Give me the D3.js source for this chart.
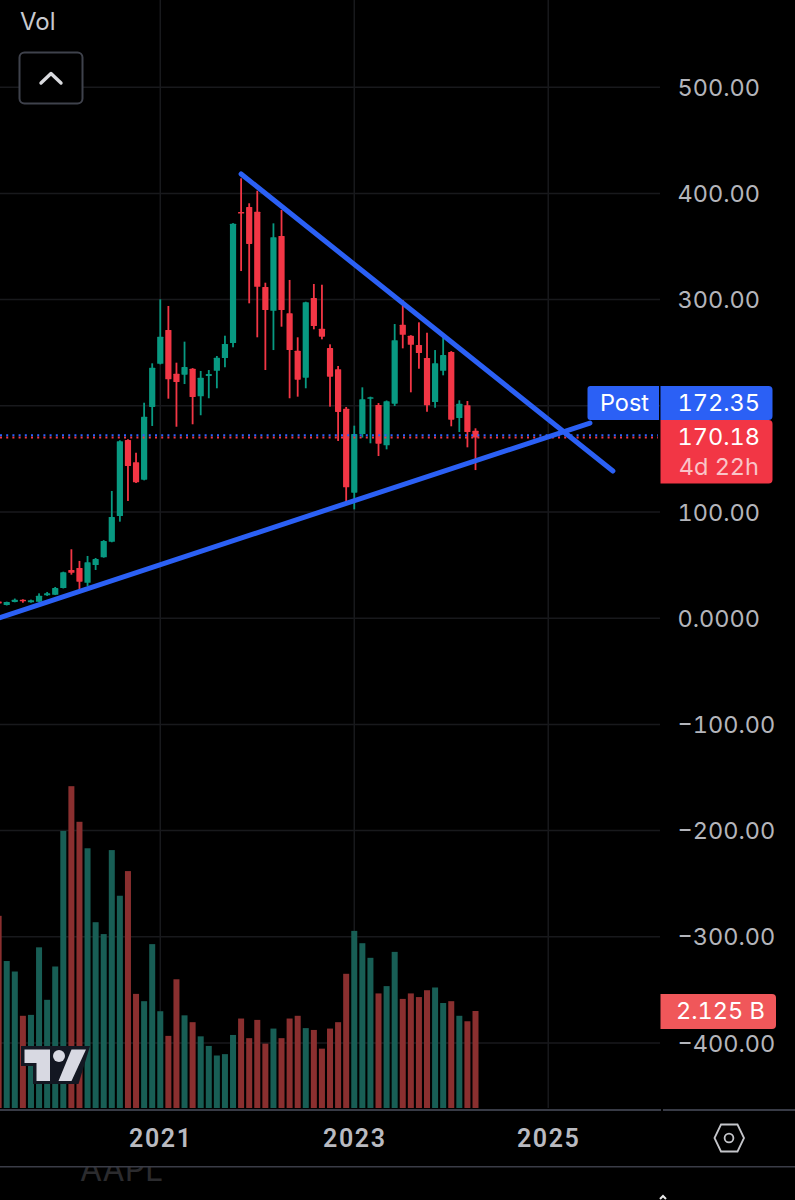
<!DOCTYPE html>
<html>
<head>
<meta charset="utf-8">
<script src="https://cdn.jsdelivr.net/npm/d3@7"></script>
<style>
  html, body { margin: 0; padding: 0; background: #000; }
  svg { display: block; }
  text { font-family: Inter, "Noto Sans", sans-serif; font-variant-numeric: tabular-nums; }
  .domain { display: none; }
</style>
</head>
<body>
<div id="chart"></div>
<script>
// monthly AAPL candles, May 2019 to Apr 2024
var opens = [15.7,12.4,15.3,17.4,15.0,15.5,21.6,22.1,28.4,45.4,47.3,33.4,50.1,57.3,72,96.2,167.8,146.8,130.4,198.9,
  239.6,271.4,230.2,229.3,234.9,208.9,228.1,233,245,259.1,382.5,387.2,382.8,311.9,289.5,359.9,287.1,251.9,226.5,301.5,
  272.6,254.4,234.4,197.3,118.2,173.4,206.7,200.8,162.8,202,276.4,266,257.3,245,203.6,233,250.7,188.5,200.5,176.6];
var highs = [16,15.6,18.5,17.8,17.5,23.4,24.7,29.4,43.8,64.9,53.9,58.6,56.7,73.5,119.8,167.5,168.5,155.8,202.9,240,
  300.3,294,240.6,260.4,235.5,232.8,233.7,246.9,266,372,414.2,390.7,402.5,315.9,371.8,384.4,318.5,264.5,298,314.7,
  314,257.9,237.5,198.9,181.3,217.4,208.6,202.6,205,277,299.6,266.5,278.6,268.8,252.5,265.1,251.5,205.2,204.5,178.8];
var lows = [13,12,15,14.6,14.6,15,21,21.8,28,41,25,30.3,45.4,57,71.5,90.9,110.4,127.3,129.8,181,
  239,206.7,180.3,220.5,182.6,191.1,207.1,216.5,236.3,255.1,326.9,296.5,264.5,233.7,252.5,274.5,207.1,208.6,216.5,272,
  262.6,199.2,166.9,108.8,102.5,170,164.7,152.7,159,199.8,254.1,212.7,234.9,194.4,198.2,228.7,180.7,175.3,160.9,139.5];
var closes = [13.9,15.3,17.4,15.9,16.9,21.2,23.4,28.4,43.2,42.8,34.4,52.6,55.7,72.7,95.3,166.6,143.3,128,189.7,235.9,
  265.1,225,222.4,236.5,208.3,226.5,229.9,245.3,258.2,371.5,381.3,352.4,312.1,290.2,358.7,290.2,252.5,224.6,297.5,275.1,
  265.1,227.4,194.2,123.3,173.4,206.1,208,164.3,204.2,261.7,266.9,257.5,249.7,200.5,240,247.8,186.9,202,175.3,170.18];
// volume in billions
var volumes = [4.21,3.22,2.99,2.02,2.04,3.52,2.37,3.10,6.07,7.05,6.27,5.69,4.07,3.81,5.65,4.65,5.19,2.50,2.34,3.59,
  2.12,1.58,2.82,2.03,1.88,1.57,1.36,1.15,1.18,1.60,1.96,1.53,1.93,1.41,1.74,1.53,1.96,2.02,1.75,1.71,
  1.30,1.74,1.88,2.94,3.88,3.61,3.29,2.51,2.67,3.42,2.39,2.51,2.43,2.58,2.64,2.30,2.34,2.02,1.90,2.125];

var priceTicks = [500, 400, 300, 200, 100, 0, -100, -200, -300, -400];
var priceLabels = ["500.00", "400.00", "300.00", "", "100.00", "0.0000", "\u2212100.00", "\u2212200.00", "\u2212300.00", "\u2212400.00"];
var yearTicks = [20, 44, 68];   // bar position of each January
var yearLabels = ["2021", "2023", "2025"];

// hand drawn lines: [bar position, price]
var lowerTrend = [[0, 0.2], [73.16, 183.8]];
var upperTrend = [[30, 418.3], [76, 138.6]];
var postPrice = 172.35;
var lastPrice = 170.18;

var width = 795, height = 1200;
var paneRight = 660, volBase = 1108;

var svg = d3.select("#chart").append("svg")
  .attr("width", width)
  .attr("height", height);

// Scales
var xScale = d3.scaleLinear().domain([0, 59]).range([-1.36, 475.5]);
var yScale = d3.scaleLinear().domain([0, 500]).range([618.2, 87.2]);
var volScale = d3.scaleLinear().domain([0, 2.125]).range([volBase, 1011]);

// Grid
svg.append("g").selectAll("line")
  .data(priceTicks)
  .enter().append("line")
    .attr("x1", 0).attr("x2", paneRight)
    .attr("y1", function(d) { return yScale(d); })
    .attr("y2", function(d) { return yScale(d); })
    .attr("stroke", "#18191c")
    .attr("stroke-width", 1.5);

svg.append("g").selectAll("line")
  .data(yearTicks)
  .enter().append("line")
    .attr("x1", function(d) { return xScale(d); })
    .attr("x2", function(d) { return xScale(d); })
    .attr("y1", 0).attr("y2", volBase)
    .attr("stroke", "#18191c")
    .attr("stroke-width", 1.5);

// Volume bars
svg.append("g").selectAll("rect")
  .data(volumes)
  .enter().append("rect")
    .attr("x", function(d, i) { return xScale(i) - 3; })
    .attr("y", function(d) { return volScale(d); })
    .attr("width", 6)
    .attr("height", function(d) { return volBase - volScale(d); })
    .attr("fill", function(d, i) { return closes[i] >= opens[i] ? "#185e55" : "#8a2f2f"; });

// Candles
var candles = svg.append("g").selectAll("g")
  .data(opens)
  .enter().append("g")
    .attr("fill", function(d, i) { return closes[i] >= opens[i] ? "#089981" : "#f23645"; });

candles.append("rect")
  .attr("x", function(d, i) { return xScale(i) - 0.9; })
  .attr("y", function(d, i) { return yScale(highs[i]); })
  .attr("width", 1.8)
  .attr("height", function(d, i) { return yScale(lows[i]) - yScale(highs[i]); });

candles.append("rect")
  .attr("x", function(d, i) { return xScale(i) - 3.1; })
  .attr("y", function(d, i) { return yScale(Math.max(opens[i], closes[i])); })
  .attr("width", 6.2)
  .attr("height", function(d, i) { return Math.max(1.5, Math.abs(yScale(opens[i]) - yScale(closes[i]))); })
  .attr("rx", 0.6);

// Price lines
var priceLines = [[lastPrice, "#f23645"], [postPrice, "#2962ff"]];
svg.append("g").selectAll("line")
  .data(priceLines)
  .enter().append("line")
    .attr("x1", 0).attr("x2", paneRight - 2)
    .attr("y1", function(d) { return yScale(d[0]); })
    .attr("y2", function(d) { return yScale(d[0]); })
    .attr("stroke", function(d) { return d[1]; })
    .attr("stroke-width", 2)
    .attr("stroke-dasharray", "2 4.2");

// Trend lines
var trend = d3.line()
  .x(function(d) { return xScale(d[0]); })
  .y(function(d) { return yScale(d[1]); });

svg.append("g").selectAll("path")
  .data([lowerTrend, upperTrend])
  .enter().append("path")
    .attr("d", trend)
    .attr("fill", "none")
    .attr("stroke", "#2b60f5")
    .attr("stroke-width", 5)
    .attr("stroke-linecap", "round");

// Price axis
var yAxis = d3.axisRight(yScale)
  .tickValues(priceTicks)
  .tickSize(0)
  .tickPadding(0)
  .tickFormat(function(d, i) { return priceLabels[i]; });

svg.append("g")
  .attr("transform", "translate(677.5,0.5)")
  .call(yAxis)
  .selectAll("text")
    .attr("fill", "#b4b5bb")
    .attr("font-size", "23.5px");

// Time axis
var xAxis = d3.axisBottom(xScale)
  .tickValues(yearTicks)
  .tickSize(0)
  .tickPadding(0)
  .tickFormat(function(d, i) { return yearLabels[i]; });

svg.append("g")
  .attr("transform", "translate(0,1129.5)")
  .call(xAxis)
  .selectAll("text")
    .attr("fill", "#b9bac0")
    .attr("font-size", "25px")
    .attr("font-weight", 600)
    .style("font-family", "Roboto")
    .style("letter-spacing", "1.6px");

// Axis rules
svg.append("rect").attr("x", 0).attr("y", 1109).attr("width", 661).attr("height", 2).attr("fill", "#383b46");
svg.append("rect").attr("x", 663).attr("y", 1109).attr("width", 132).attr("height", 2).attr("fill", "#383b46");

// Bottom strip
var strip = svg.append("g");
strip.append("clipPath").attr("id", "stripClip")
  .append("rect").attr("x", 0).attr("y", 1167).attr("width", 795).attr("height", 33);
strip.append("text")
  .text("AAPL")
  .attr("x", 80).attr("y", 1181)
  .attr("font-size", "32px")
  .attr("fill", "#2b2b2e")
  .attr("clip-path", "url(#stripClip)");
strip.append("rect").attr("x", 0).attr("y", 1166).attr("width", 795).attr("height", 1.5).attr("fill", "#3a3c47");
strip.append("path")
  .attr("d", "M660,1199l3,-3l3,3")
  .attr("fill", "none")
  .attr("stroke", "#e8e8e8")
  .attr("stroke-width", 2);

// Settings icon
svg.append("path")
  .attr("d", "M721,1124.5H737.5L744,1138L737.5,1151.5H721L714.5,1138Z")
  .attr("fill", "none")
  .attr("stroke", "#c4c5ca")
  .attr("stroke-width", 1.8);
svg.append("circle")
  .attr("cx", 729).attr("cy", 1138).attr("r", 4.4)
  .attr("fill", "none")
  .attr("stroke", "#c4c5ca")
  .attr("stroke-width", 1.8);

// Legend
svg.append("text")
  .text("Vol")
  .attr("x", 20).attr("y", 30)
  .attr("font-size", "24px")
  .attr("fill", "#c9cad0");

svg.append("rect")
  .attr("x", 19.5).attr("y", 52.5)
  .attr("width", 63).attr("height", 51)
  .attr("rx", 5)
  .attr("fill", "#000")
  .attr("stroke", "#3f424c")
  .attr("stroke-width", 2);
svg.append("path")
  .attr("d", "M41,83L51,73.5L61,83")
  .attr("fill", "none")
  .attr("stroke", "#d9dade")
  .attr("stroke-width", 3.4)
  .attr("stroke-linecap", "round")
  .attr("stroke-linejoin", "round");

// Price labels
svg.append("path")
  .attr("d", "M590.5,386H659V420H590.5Q587.5,420 587.5,417V389Q587.5,386 590.5,386Z")
  .attr("fill", "#2b60f5");
svg.append("path")
  .attr("d", "M660.5,386H768.5Q772.5,386 772.5,390V416Q772.5,420 768.5,420H660.5Z")
  .attr("fill", "#2b60f5");
svg.append("path")
  .attr("d", "M660.5,420H768.5Q772.5,420 772.5,424V479.5Q772.5,483.5 768.5,483.5H660.5Z")
  .attr("fill", "#f23645");
svg.append("path")
  .attr("d", "M660.5,994H772Q776,994 776,998V1025Q776,1029 772,1029H660.5Z")
  .attr("fill", "#f0575a");

function boxText(s, x, y, color) {
  svg.append("text")
    .text(s)
    .attr("x", x).attr("y", y)
    .attr("dy", "0.35em")
    .attr("text-anchor", "end")
    .attr("font-size", "23.5px")
    .attr("fill", color);
}
boxText("Post", 649, 403, "#fff");
boxText(postPrice.toFixed(2), 760, 403, "#fff");
boxText(lastPrice.toFixed(2), 760, 437, "#fff");
boxText("4d 22h", 759, 467, "#f9c4c8");
boxText("2.125 B", 765, 1011, "#fff");

// Logo
svg.append("path")
  .attr("d", "M21,1046H90L78.5,1084H33V1066H21Z")
  .attr("fill", "#131722");
svg.append("path")
  .attr("d", "M24.5,1049.5H50V1081H36.5V1063H24.5Z")
  .attr("fill", "#d8d9e2");
svg.append("circle")
  .attr("cx", 59).attr("cy", 1056).attr("r", 6)
  .attr("fill", "#d8d9e2");
svg.append("path")
  .attr("d", "M71.5,1049.5H86L71.5,1081H58.5Z")
  .attr("fill", "#d8d9e2");
</script>
</body>
</html>
